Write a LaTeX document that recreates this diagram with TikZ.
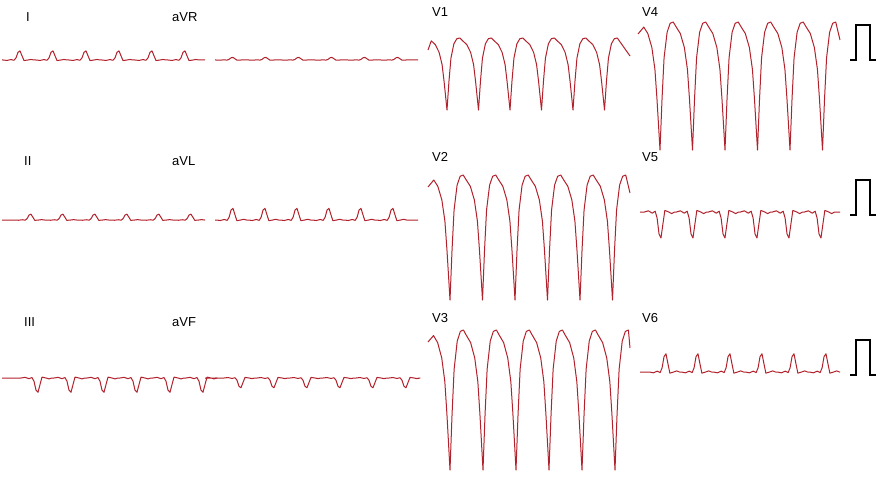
\documentclass[tikz,border=0pt]{standalone}
\usepackage{fontspec}
\setmainfont{Liberation Sans}
\definecolor{ecgred}{RGB}{178,34,44}
\tikzset{ecg/.style={draw=ecgred,line width=1pt,line join=round},
lbl/.style={anchor=west,inner sep=0pt,font=\fontsize{13}{15}\selectfont},
cal/.style={draw=black,line width=1.2pt}}
\newcommand\vlead[6]{% start x, first min, period, top, bottom, end x
\draw[ecg] (#1,{#4+12}) \foreach \k in {0,...,5}{\foreach \dx/\f in {-16/0.04,-12/0.09,-8/0.2,-5/0.37,-3/0.6,0/1,2/0.6,4/0.28,7/0.08,10/0.01,13/0}{ -- ({#2+\k*#3+\dx*#3/32},{#4+\f*(#5-#4)}) }} -- (#6,{#4+18});}
\newcommand\limb[6]{% start x, first center, period, baseline, scale, end x
\draw[ecg] (#1,#4) \foreach \k in {0,...,5}{\foreach \dx/\dy in {-16/0,-12/0.3,-8/-0.3,-5/0.2,-3/-1.5,-1/-5.5,1/-6.5,3/-3,5/0.4,9/0,12/-0.4,15/0}{ -- ({#2+\k*#3+\dx*#3/33},{#4+\dy*#5}) }} -- (#6,#4);}
\begin{document}
\begin{tikzpicture}[x=1pt,y=-1pt]
\useasboundingbox[fill=white] (0,0) rectangle (880,495);
\node[lbl] (lI) at (26,17) {I};
\node[lbl] (laVR) at (172,17) {aVR};
\node[lbl] (lV1) at (432,12) {V1};
\node[lbl] (lV4) at (642,12) {V4};
\node[lbl] (lII) at (24,161) {II};
\node[lbl] (laVL) at (172,161) {aVL};
\node[lbl] (lV2) at (432,157) {V2};
\node[lbl] (lV5) at (642,157) {V5};
\node[lbl] (lIII) at (24,322) {III};
\node[lbl] (laVF) at (172,322) {aVF};
\node[lbl] (lV3) at (432,318) {V3};
\node[lbl] (lV6) at (642,318) {V6};
% limb leads
\limb{2}{19}{33}{60}{1.4}{205}
\limb{215}{232}{33}{60}{0.4}{418}
\limb{2}{30}{32}{220}{0.9}{205}
\limb{215}{232}{32}{220}{1.8}{418}
\limb{2}{37}{33}{378}{-2.2}{205}
\limb{215}{240}{33}{378}{-1.5}{418}
% precordial
\vlead{428}{447}{31.5}{38}{110}{630}
\vlead{638}{660}{32.5}{22}{150}{840}
\vlead{428}{450}{32.5}{175}{300}{630}
\vlead{428}{450}{33}{330}{470}{630}
\limb{640}{660}{32}{212}{-4}{840}
\limb{640}{665}{32}{372}{2.8}{840}
% calibration
\draw[cal] (850,60) -- (856,60) -- (856,25) -- (870,25) -- (870,60) -- (876,60);
\draw[cal] (850,215) -- (856,215) -- (856,180) -- (870,180) -- (870,215) -- (876,215);
\draw[cal] (850,375) -- (856,375) -- (856,340) -- (870,340) -- (870,375) -- (876,375);
\end{tikzpicture}
\end{document}
